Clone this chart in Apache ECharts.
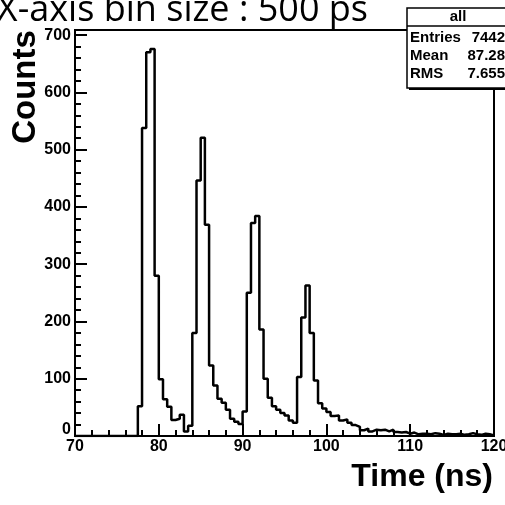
<!DOCTYPE html>
<html>
<head>
<meta charset="utf-8">
<script src="https://cdn.jsdelivr.net/npm/echarts@6/dist/echarts.min.js"></script>
<style>
  html, body { margin: 0; padding: 0; background: #fff; }
  #main { width: 505px; height: 505px; }
</style>
</head>
<body>
<div id="main"></div>
<script>
// histogram: 100 bins of 0.5 ns from 70 to 120
var binStart = 70;
var binWidth = 0.5;
var counts = [
  0, 0, 0, 0, 0, 0, 0, 0, 0, 0, 0, 0, 0, 0, 0,
  52, 538, 670, 676, 280, 99, 64, 51, 28, 30, 37, 8, 18,
  180, 446, 521, 369, 123, 88, 65, 58, 46, 30, 25, 21,
  43, 250, 372, 384, 186, 100, 67, 52, 46, 40, 36, 27, 23,
  103, 207, 263, 180, 97, 57, 48, 42, 35, 36, 27, 29, 23, 19, 16,
  10, 13, 8, 11, 10, 11, 8, 11, 7, 6, 7, 4,
  6, 3, 4, 4, 3, 5, 4, 2, 4, 3, 3, 4, 2, 3, 5, 3, 2, 4, 3, 1
];
var statNames = ['Entries', 'Mean', 'RMS'];
var statValues = ['7442', '87.28', '7.655'];

var stepData = counts.map(function (c, i) { return [binStart + i * binWidth, c]; });
stepData.push([binStart + counts.length * binWidth, counts[counts.length - 1]]);

var chart = echarts.init(document.getElementById('main'));
var lbl = { color: '#000', fontFamily: 'Liberation Sans, Arial, sans-serif', fontWeight: 'bold', fontSize: 16 };
var statFont = 'bold 15px Liberation Sans, Arial, sans-serif';

var statsEls = [
  { type: 'rect', shape: { x: 409, y: 10, width: 110, height: 80 }, style: { fill: '#000' }, z: 100 },
  { type: 'rect', shape: { x: 407, y: 8, width: 110, height: 80 }, style: { fill: '#fff', stroke: '#000', lineWidth: 1.5 }, z: 101 },
  { type: 'line', shape: { x1: 407, y1: 26, x2: 505, y2: 26 }, style: { stroke: '#000', lineWidth: 1.5 }, z: 102 },
  { type: 'text', x: 458, y: 17, style: { text: 'all', fill: '#000', font: statFont, align: 'center', verticalAlign: 'middle' }, z: 102 }
];
statNames.forEach(function (n, i) {
  var yy = 38 + i * 18;
  statsEls.push({ type: 'text', x: 410, y: yy, style: { text: n, fill: '#000', font: statFont, verticalAlign: 'middle' }, z: 102 });
  statsEls.push({ type: 'text', x: 505, y: yy, style: { text: statValues[i], fill: '#000', font: statFont, align: 'right', verticalAlign: 'middle' }, z: 102 });
});

chart.setOption({
  animation: false,
  backgroundColor: '#fff',
  grid: {
    left: 75, right: 11, top: 30, bottom: 69,
    show: true, borderColor: '#000', borderWidth: 2,
    outerBoundsMode: 'none'
  },
  xAxis: {
    type: 'value',
    min: 70, max: 120, interval: 10,
    splitLine: { show: false },
    axisLine: { lineStyle: { color: '#000', width: 2 } },
    axisTick: { inside: true, length: 12, lineStyle: { color: '#000', width: 2 } },
    minorTick: { show: true, splitNumber: 5, length: 6, lineStyle: { color: '#000', width: 2 } },
    axisLabel: Object.assign({ margin: 3 }, lbl)
  },
  yAxis: {
    type: 'value',
    min: 0, max: 709, interval: 100,
    splitLine: { show: false },
    axisLine: { show: true, lineStyle: { color: '#000', width: 2 } },
    axisTick: { inside: true, length: 12, lineStyle: { color: '#000', width: 2 } },
    minorTick: { show: true, splitNumber: 5, length: 6, lineStyle: { color: '#000', width: 2 } },
    axisLabel: Object.assign({
      margin: 4,
      formatter: function (v) {
        if (v % 100 !== 0) return '';
        return v === 0 ? '{z|0}' : String(v);
      },
      rich: { z: { fontFamily: 'Liberation Sans, Arial, sans-serif', fontWeight: 'bold', fontSize: 16, color: '#000', padding: [0, 0, 12, 0] } }
    }, lbl)
  },
  series: [{
    type: 'line',
    step: 'end',
    data: stepData,
    symbol: 'none',
    lineStyle: { color: '#000', width: 2.5 },
    z: 3
  }],
  graphic: [
    { type: 'text', x: 368, y: 11, style: { text: 'X-axis bin size : 500 ps', fill: '#000', font: '36px Open Sans, sans-serif', align: 'right', verticalAlign: 'middle' } },
    { type: 'text', x: 26, y: 87, rotation: Math.PI / 2, style: { text: 'Counts', fill: '#000', font: 'bold 33px Liberation Sans, Arial, sans-serif', align: 'center', verticalAlign: 'middle' } },
    { type: 'text', x: 493, y: 477, style: { text: 'Time (ns)', fill: '#000', font: 'bold 32px Liberation Sans, Arial, sans-serif', align: 'right', verticalAlign: 'middle' } }
  ].concat(statsEls)
});
</script>
</body>
</html>
